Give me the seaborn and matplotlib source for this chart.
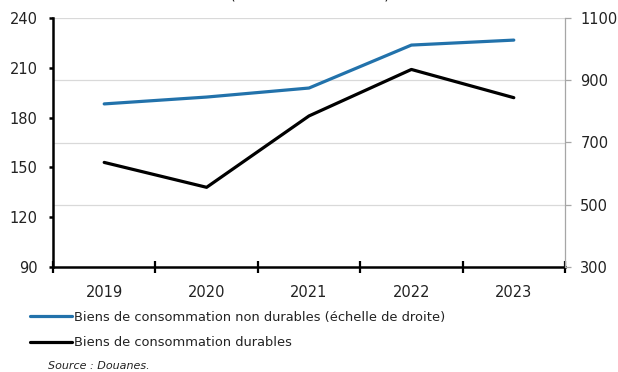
import numpy as np
import pandas as pd
import matplotlib
matplotlib.use('Agg')
import matplotlib.pyplot as plt
from matplotlib.lines import Line2D
import seaborn as sns

sns.set_style('white')
plt.rcParams['font.family'] = ['DejaVu Sans']

# data
years = ['2019', '2020', '2021', '2022', '2023']
durables = [153, 138, 181, 209, 192]          # left scale
non_durables = [824, 846, 875, 1013, 1029]    # right scale
left_ticks = [90, 120, 150, 180, 210, 240]
right_ticks = [300, 500, 700, 900, 1100]

label_nd = 'Biens de consommation non durables (échelle de droite)'
label_d = 'Biens de consommation durables'
blue = '#2272ab'

df = pd.DataFrame({'x': np.arange(len(years)), 'durables': durables,
                   'non_durables': non_durables})

fig = plt.figure(figsize=(6.18, 3.72), dpi=100)
ax = fig.add_axes([53/618, 1-267/372, (565-53)/618, (267-18)/372])
ax2 = ax.twinx()

# grid lines of the right scale, drawn on the left axes so they stay behind
for v in right_ticks[1:]:
    yl = left_ticks[0] + (v - right_ticks[0]) * (left_ticks[-1] - left_ticks[0]) / (right_ticks[-1] - right_ticks[0])
    ax.axhline(yl, color='#d9d9d9', lw=0.9, zorder=0)

sns.lineplot(data=df, x='x', y='durables', ax=ax, color='black', lw=2.3, zorder=3)
sns.lineplot(data=df, x='x', y='non_durables', ax=ax2, color=blue, lw=2.3, zorder=3)

ax.set_xlim(-0.5, len(years) - 0.5)
ax.set_ylim(left_ticks[0], left_ticks[-1])
ax2.set_ylim(right_ticks[0], right_ticks[-1])
ax.set_xlabel('')
ax.set_ylabel('')
ax2.set_ylabel('')

ax.set_yticks(left_ticks)
ax2.set_yticks(right_ticks)
ax.set_xticks(np.arange(-0.5, len(years), 1.0))
ax.set_xticklabels([])
ax.set_xticks(np.arange(len(years)), minor=True)
ax.set_xticklabels(years, minor=True)

for a in (ax, ax2):
    a.spines['top'].set_visible(False)
ax.spines['right'].set_visible(False)
ax2.spines['left'].set_visible(False)
ax2.spines['bottom'].set_visible(False)
ax.spines['left'].set_linewidth(1.8)
ax.spines['left'].set_color('black')
ax.spines['bottom'].set_linewidth(1.8)
ax.spines['bottom'].set_color('black')
ax.spines['bottom'].set_zorder(5)
ax2.spines['right'].set_color('#a6a6a6')
ax2.spines['right'].set_linewidth(0.9)

ax.tick_params(axis='y', which='major', direction='out', length=3, width=1.8,
               color='black', labelsize=10.5, pad=8, left=True)
ax.tick_params(axis='x', which='major', direction='inout', length=8, width=1.6,
               color='black', bottom=True)
ax.tick_params(axis='x', which='minor', length=0, labelsize=10.5, pad=13)
ax2.tick_params(axis='y', direction='out', length=4, width=0.9, color='#a6a6a6',
                labelsize=10.5, pad=7, right=True)
for t in ax.get_yticklabels() + ax2.get_yticklabels() + ax.get_xticklabels(minor=True):
    t.set_color('#222222')

# title, cut off at the top of the picture as in the reference
fig.text(0.5*(227+392)/618, 1+1.5/372, '(en milliards de FCFA)', ha='center',
         va='baseline', fontsize=10.5, color='#222222')

handles = [Line2D([], [], color=blue, lw=2.3), Line2D([], [], color='black', lw=2.3)]
fig.legend(handles, [label_nd, label_d], loc='upper left',
           bbox_to_anchor=(30/618, 1-311/372), frameon=False, fontsize=9.4,
           handlelength=3.2, handletextpad=0.15, labelspacing=0.95,
           borderpad=0, borderaxespad=0, labelcolor='#222222')

fig.text(48/618, 1-366/372, 'Source : Douanes.', style='italic', fontsize=8,
         va='center', color='#222222')

fig.savefig('out.png', dpi=100)
